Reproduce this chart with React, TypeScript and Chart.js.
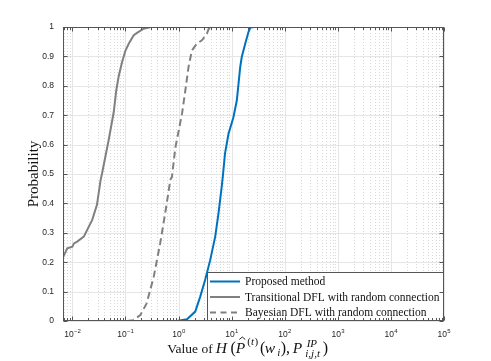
import React, { useEffect, useRef } from 'react';
import { Chart, registerables } from 'chart.js';

Chart.register(...registerables);

// ---- Data ----
const proposedX = [0.93, 1.44, 2.06, 2.56, 3.17, 3.94, 4.9, 5.65, 6.5, 6.8, 7.5, 8.7, 10.8, 12.5, 14.5, 15.5, 18, 20.7, 22.5, 27];
const proposedY = [0, 0.006, 0.032, 0.083, 0.14, 0.207, 0.287, 0.366, 0.457, 0.49, 0.57, 0.636, 0.693, 0.75, 0.864, 0.898, 0.943, 0.983, 0.998, 1.0];

const transitionalX = [0.0064, 0.008, 0.01, 0.0107, 0.0123, 0.0164, 0.0236, 0.029, 0.034, 0.036, 0.048, 0.06, 0.067, 0.074, 0.086, 0.1, 0.115, 0.143, 0.165, 0.22, 0.3];
const transitionalY = [0.21, 0.247, 0.253, 0.264, 0.27, 0.287, 0.344, 0.395, 0.48, 0.5, 0.614, 0.71, 0.784, 0.83, 0.88, 0.92, 0.943, 0.972, 0.98, 0.994, 1.0];

const bayesianX = [0.107, 0.14, 0.19, 0.25, 0.34, 0.45, 0.56, 0.7, 0.75, 0.87, 1.16, 1.34, 1.54, 1.78, 2.2, 2.75, 3.4, 3.7, 4.5];
const bayesianY = [0, 0.003, 0.02, 0.06, 0.15, 0.264, 0.367, 0.48, 0.49, 0.59, 0.705, 0.784, 0.864, 0.92, 0.943, 0.955, 0.977, 0.994, 1.0];

const seriesLabels = [
  'Proposed method',
  'Transitional DFL with random connection',
  'Bayesian DFL with random connection',
];

const xMin = 0.00665;
const xMax = 1e5;
const xTickValues = [1e-2, 1e-1, 1, 1e1, 1e2, 1e3, 1e4, 1e5];
const xTickExponents = ['\u22122', '\u22121', '0', '1', '2', '3', '4', '5'];
const yTickLabels = ['0', '0.1', '0.2', '0.3', '0.4', '0.5', '0.6', '0.7', '0.8', '0.9', '1'];

const SANS = '"Liberation Sans", Arial, Helvetica, sans-serif';
const SERIF = '"Liberation Serif", "Times New Roman", serif';
const AXIS_COLOR = '#555555';
const TEXT_COLOR = '#262626';

const toPoints = (xs: number[], ys: number[]) => xs.map((v, i) => ({ x: v, y: ys[i] }));

const matlabPlugin = {
  id: 'matlabAxes',
  beforeDatasetsDraw(chart: any) {
    const { ctx, chartArea: a, scales } = chart;
    const x = scales.x;
    const y = scales.y;
    ctx.save();
    // minor vertical dotted grid
    ctx.strokeStyle = '#d9d9d9';
    ctx.lineWidth = 1;
    ctx.setLineDash([1, 2]);
    for (let d = -3; d <= 5; d++) {
      for (let m = 2; m <= 9; m++) {
        const v = m * Math.pow(10, d);
        if (v <= xMin || v >= xMax) continue;
        const px = Math.round(x.getPixelForValue(v)) + 0.5;
        ctx.beginPath();
        ctx.moveTo(px, a.top);
        ctx.lineTo(px, a.bottom);
        ctx.stroke();
      }
    }
    ctx.setLineDash([]);
    // major grid
    ctx.strokeStyle = '#e6e6e6';
    xTickValues.forEach((v) => {
      const px = Math.round(x.getPixelForValue(v)) + 0.5;
      ctx.beginPath();
      ctx.moveTo(px, a.top);
      ctx.lineTo(px, a.bottom);
      ctx.stroke();
    });
    yTickLabels.forEach((_, i) => {
      const py = Math.round(y.getPixelForValue(i / 10)) + 0.5;
      ctx.beginPath();
      ctx.moveTo(a.left, py);
      ctx.lineTo(a.right, py);
      ctx.stroke();
    });
    ctx.restore();
  },
  afterDatasetsDraw(chart: any) {
    const { ctx, chartArea: a, scales } = chart;
    const x = scales.x;
    const y = scales.y;
    ctx.save();
    const L = Math.round(a.left) + 0.5;
    const R = Math.round(a.right) - 0.5;
    const T = Math.round(a.top) + 0.5;
    const B = Math.round(a.bottom) - 0.5;

    // ---- Legend ----
    const lgLeft = 207.5;
    const lgTop = 272.5;
    ctx.fillStyle = '#ffffff';
    ctx.fillRect(lgLeft, lgTop, R - lgLeft, B - lgTop);
    ctx.strokeStyle = AXIS_COLOR;
    ctx.lineWidth = 1;
    ctx.strokeRect(lgLeft, lgTop, R - lgLeft, B - lgTop);
    const rowY = [281.5, 297, 312.5];
    chart.data.datasets.forEach((ds: any, i: number) => {
      ctx.strokeStyle = ds.borderColor;
      ctx.lineWidth = 2;
      ctx.setLineDash(ds.borderDash && ds.borderDash.length ? [6, 4.5] : []);
      ctx.beginPath();
      ctx.moveTo(210, rowY[i]);
      ctx.lineTo(240, rowY[i]);
      ctx.stroke();
      ctx.setLineDash([]);
      ctx.fillStyle = '#111111';
      ctx.font = `11.5px ${SERIF}`;
      ctx.textAlign = 'left';
      ctx.textBaseline = 'middle';
      ctx.fillText(seriesLabels[i], 245, rowY[i] + 0.5);
    });

    // ---- Axes frame ----
    ctx.strokeStyle = AXIS_COLOR;
    ctx.lineWidth = 1;
    ctx.strokeRect(L, T, R - L, B - T);

    ctx.beginPath();
    for (let d = -3; d <= 5; d++) {
      for (let m = 1; m <= 9; m++) {
        const v = m * Math.pow(10, d);
        if (v < xMin || v > xMax) continue;
        const px = Math.round(x.getPixelForValue(v)) + 0.5;
        const len = m === 1 ? 4 : 2.5;
        ctx.moveTo(px, B);
        ctx.lineTo(px, B - len);
        ctx.moveTo(px, T);
        ctx.lineTo(px, T + len);
      }
    }
    yTickLabels.forEach((_, i) => {
      const py = Math.round(y.getPixelForValue(i / 10)) + 0.5;
      ctx.moveTo(L, py);
      ctx.lineTo(L + 4, py);
      ctx.moveTo(R, py);
      ctx.lineTo(R - 4, py);
    });
    ctx.stroke();

    // ---- X tick labels 10^n ----
    ctx.fillStyle = TEXT_COLOR;
    ctx.textAlign = 'left';
    ctx.textBaseline = 'alphabetic';
    xTickValues.forEach((v, i) => {
      const px = x.getPixelForValue(v);
      ctx.font = `8.5px ${SANS}`;
      const bw = ctx.measureText('10').width;
      ctx.font = `6px ${SANS}`;
      const ew = ctx.measureText(xTickExponents[i]).width;
      const sx = px - (bw + ew) / 2;
      ctx.font = `8.5px ${SANS}`;
      ctx.fillText('10', sx, 336.5);
      ctx.font = `6px ${SANS}`;
      ctx.fillText(xTickExponents[i], sx + bw + 0.3, 333);
    });

    // ---- X axis title (math) ----
    const F = (style: string, size: number) => `${style} ${size}px ${SERIF}`.trim();
    // [text, font, offset from title start, baseline shift]
    const titleParts: [string, string, number, number][] = [
      ['Value of', F('', 13.5), 0, 0],
      ['H', F('italic', 15.5), 48.5, 0],
      ['(', F('', 16), 63.2, 0],
      ['P', F('italic', 15.5), 68.5, 0],
      ['(', F('', 11), 80, -8],
      ['t', F('italic', 11), 83.8, -8],
      [')', F('', 11), 87.3, -8],
      ['(', F('', 16), 92.7, 0],
      ['w', F('italic', 15.5), 97.5, 0],
      ['i', F('italic', 11), 110, 2.5],
      [')', F('', 16), 113.4, 0],
      [',', F('', 16), 118.7, 0],
      ['P', F('italic', 15.5), 125.5, 0],
      ['IP', F('italic', 11), 139.4, -6],
      ['i,j,t', F('italic', 11), 138, 4],
      [')', F('', 16), 155.5, 0],
    ];
    const titleWidth = 161;
    const start = (a.left + a.right) / 2 - 5.7 - titleWidth / 2;
    const base = 353;
    ctx.fillStyle = '#111111';
    titleParts.forEach(([t, f, off, dy]) => {
      ctx.font = f;
      ctx.fillText(t, start + off, base + dy);
    });
    // hat over first P
    const hx = start + 75;
    ctx.strokeStyle = '#111111';
    ctx.lineWidth = 0.9;
    ctx.beginPath();
    ctx.moveTo(hx - 3, base - 13.5);
    ctx.lineTo(hx, base - 16);
    ctx.lineTo(hx + 3, base - 13.5);
    ctx.stroke();

    ctx.restore();
  },
};

export default function App() {
  const canvasRef = useRef<HTMLCanvasElement | null>(null);

  useEffect(() => {
    if (!canvasRef.current) return;
    const chart = new Chart(canvasRef.current, {
      type: 'line',
      data: {
        datasets: [
          {
            label: seriesLabels[0],
            data: toPoints(proposedX, proposedY),
            borderColor: '#0072BD',
            borderWidth: 2,
            pointRadius: 0,
            tension: 0,
            fill: false,
          },
          {
            label: seriesLabels[1],
            data: toPoints(transitionalX, transitionalY),
            borderColor: '#808080',
            borderWidth: 2,
            pointRadius: 0,
            tension: 0,
            fill: false,
          },
          {
            label: seriesLabels[2],
            data: toPoints(bayesianX, bayesianY),
            borderColor: '#808080',
            borderWidth: 2,
            borderDash: [7, 4],
            pointRadius: 0,
            tension: 0,
            fill: false,
          },
        ],
      },
      options: {
        responsive: false,
        animation: false,
        devicePixelRatio: 1,
        layout: { padding: { left: 25, top: 27, right: 47, bottom: 40 } },
        plugins: {
          legend: { display: false },
          tooltip: { enabled: false },
        },
        scales: {
          x: {
            type: 'logarithmic',
            min: xMin,
            max: xMax,
            display: false,
          },
          y: {
            type: 'linear',
            min: 0,
            max: 1,
            grid: { display: false, drawTicks: false },
            border: { display: false },
            ticks: {
              stepSize: 0.1,
              padding: 9,
              color: TEXT_COLOR,
              font: { size: 8.5, family: SANS },
              callback: (_v: any, i: number) => yTickLabels[i],
            },
            title: {
              display: true,
              text: 'Probability',
              color: '#111111',
              font: { size: 15, family: SERIF },
              padding: 0,
            },
            afterFit: (scale: any) => {
              scale.width = 38;
            },
          },
        },
      } as any,
      plugins: [matlabPlugin],
    });
    return () => chart.destroy();
  }, []);

  return (
    <div style={{ position: 'absolute', left: 0, top: 0, width: 491, height: 361, background: '#fff' }}>
      <canvas ref={canvasRef} width={491} height={361} />
    </div>
  );
}
